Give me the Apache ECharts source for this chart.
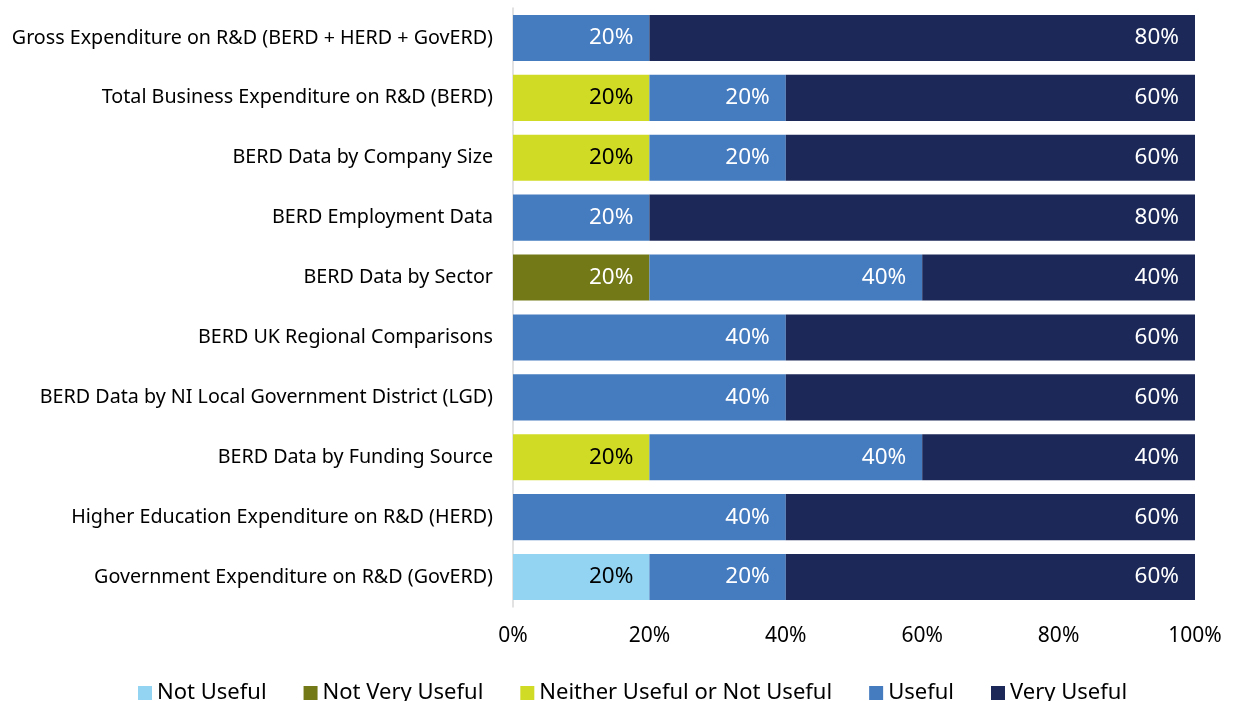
<!DOCTYPE html>
<html>
<head>
<meta charset="utf-8">
<script src="https://cdn.jsdelivr.net/npm/echarts@6/dist/echarts.min.js"></script>
<style>
  html, body { margin: 0; padding: 0; background: #fff; }
  #chart { width: 1235px; height: 701px; }
</style>
</head>
<body>
<div id="chart"></div>
<script>
// categories, top to bottom
const categories = [
  'Gross Expenditure on R&D (BERD + HERD + GovERD)',
  'Total Business Expenditure on R&D (BERD)',
  'BERD Data by Company Size',
  'BERD Employment Data',
  'BERD Data by Sector',
  'BERD UK Regional Comparisons',
  'BERD Data by NI Local Government District (LGD)',
  'BERD Data by Funding Source',
  'Higher Education Expenditure on R&D (HERD)',
  'Government Expenditure on R&D (GovERD)'
];

const notUseful     = [0, 0, 0, 0, 0, 0, 0, 0, 0, 20];
const notVeryUseful = [0, 0, 0, 0, 20, 0, 0, 0, 0, 0];
const neither       = [0, 20, 20, 0, 0, 0, 0, 20, 0, 0];
const useful        = [20, 20, 20, 20, 40, 40, 40, 40, 40, 20];
const veryUseful    = [80, 60, 60, 80, 40, 60, 60, 40, 60, 60];

const xTicks = [0, 20, 40, 60, 80, 100];

const fontFamily = '"Noto Sans", Roboto, sans-serif';

function makeSeries(name, data, color, labelColor) {
  return {
    name: name,
    type: 'bar',
    stack: 'total',
    barCategoryGap: '23%',
    data: data.map(v => (v > 0 ? v : null)),
    itemStyle: { color: color },
    label: {
      show: true,
      position: 'insideRight',
      distance: 16,
      formatter: p => p.value + '%',
      color: labelColor,
      fontSize: 22.5,
      fontFamily: fontFamily
    }
  };
}

const chart = echarts.init(document.getElementById('chart'));
chart.setOption({
  animation: false,
  grid: { left: 513, right: 40, top: 8, height: 599 },
  legend: {
    top: 677,
    left: 133,
    itemWidth: 14,
    itemHeight: 14,
    itemGap: 37,
    icon: 'rect',
    textStyle: { fontSize: 22, color: '#000', fontFamily: fontFamily }
  },
  xAxis: {
    type: 'value',
    min: xTicks[0],
    max: xTicks[xTicks.length - 1],
    interval: 20,
    axisLabel: { formatter: '{value}%', fontSize: 21, color: '#000', margin: 19, fontFamily: fontFamily },
    axisLine: { show: false },
    axisTick: { show: false },
    splitLine: { show: false }
  },
  yAxis: {
    type: 'category',
    inverse: true,
    data: categories,
    axisLabel: { fontSize: 19.7, color: '#000', margin: 20, fontFamily: fontFamily },
    axisLine: { show: true, lineStyle: { color: '#d9d9d9', width: 1.5 } },
    axisTick: { show: false }
  },
  series: [
    makeSeries('Not Useful', notUseful, '#93D4F2', '#000'),
    makeSeries('Not Very Useful', notVeryUseful, '#737917', '#fff'),
    makeSeries('Neither Useful or Not Useful', neither, '#D0DB26', '#000'),
    makeSeries('Useful', useful, '#457BBF', '#fff'),
    makeSeries('Very Useful', veryUseful, '#1C2858', '#fff')
  ]
});
</script>
</body>
</html>
